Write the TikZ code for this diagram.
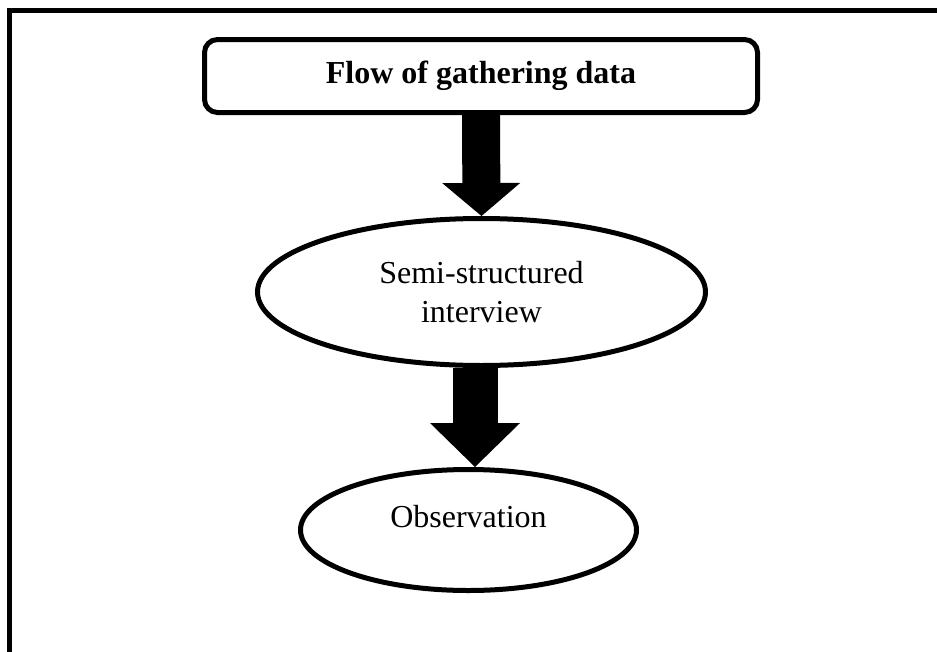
\documentclass[tikz,border=0pt]{standalone}
\usepackage{fontspec}
\setmainfont{Liberation Serif}
\usetikzlibrary{arrows.meta,shapes.geometric}

\tikzset{
	headbox/.style={draw,line width=5pt,rounded corners=13pt,minimum width=553pt,minimum height=73pt,font=\fontsize{32}{38.4}\selectfont\bfseries},
	stagenode/.style={draw,ellipse,line width=5pt,inner sep=0pt,align=center,font=\fontsize{32}{38.4}\selectfont},
	blockarrow/.style n args={4}{line width=#1,-{Triangle[width=#2,length=#3,line width=0pt]},shorten <=#4}
}

\begin{document}
\begin{tikzpicture}[x=1pt,y=-1pt]
	\useasboundingbox (0,0) rectangle (937,651);
	\clip (0,0) rectangle (937,651);
	% outer frame (cut off at right and bottom)
	\draw[line width=5pt] (9.5,700) |- (990,10.5);

	\node[headbox] (flow) at (481,76) {Flow of gathering data};
	\node[stagenode,minimum width=448pt,minimum height=147pt] (semi) at (481.5,292) {Semi-structured\\interview};
	\node[stagenode,minimum width=336pt,minimum height=121pt,text depth=27pt] (obs) at (468.5,530) {Observation};

	\draw[blockarrow={38pt}{78pt}{33pt}{0pt}] (flow.south) -- (semi.north);
	\draw[blockarrow={45pt}{90pt}{44pt}{0pt}] ([xshift=-6.5pt]semi.south) -- ([xshift=6.5pt]obs.north);
\end{tikzpicture}
\end{document}
